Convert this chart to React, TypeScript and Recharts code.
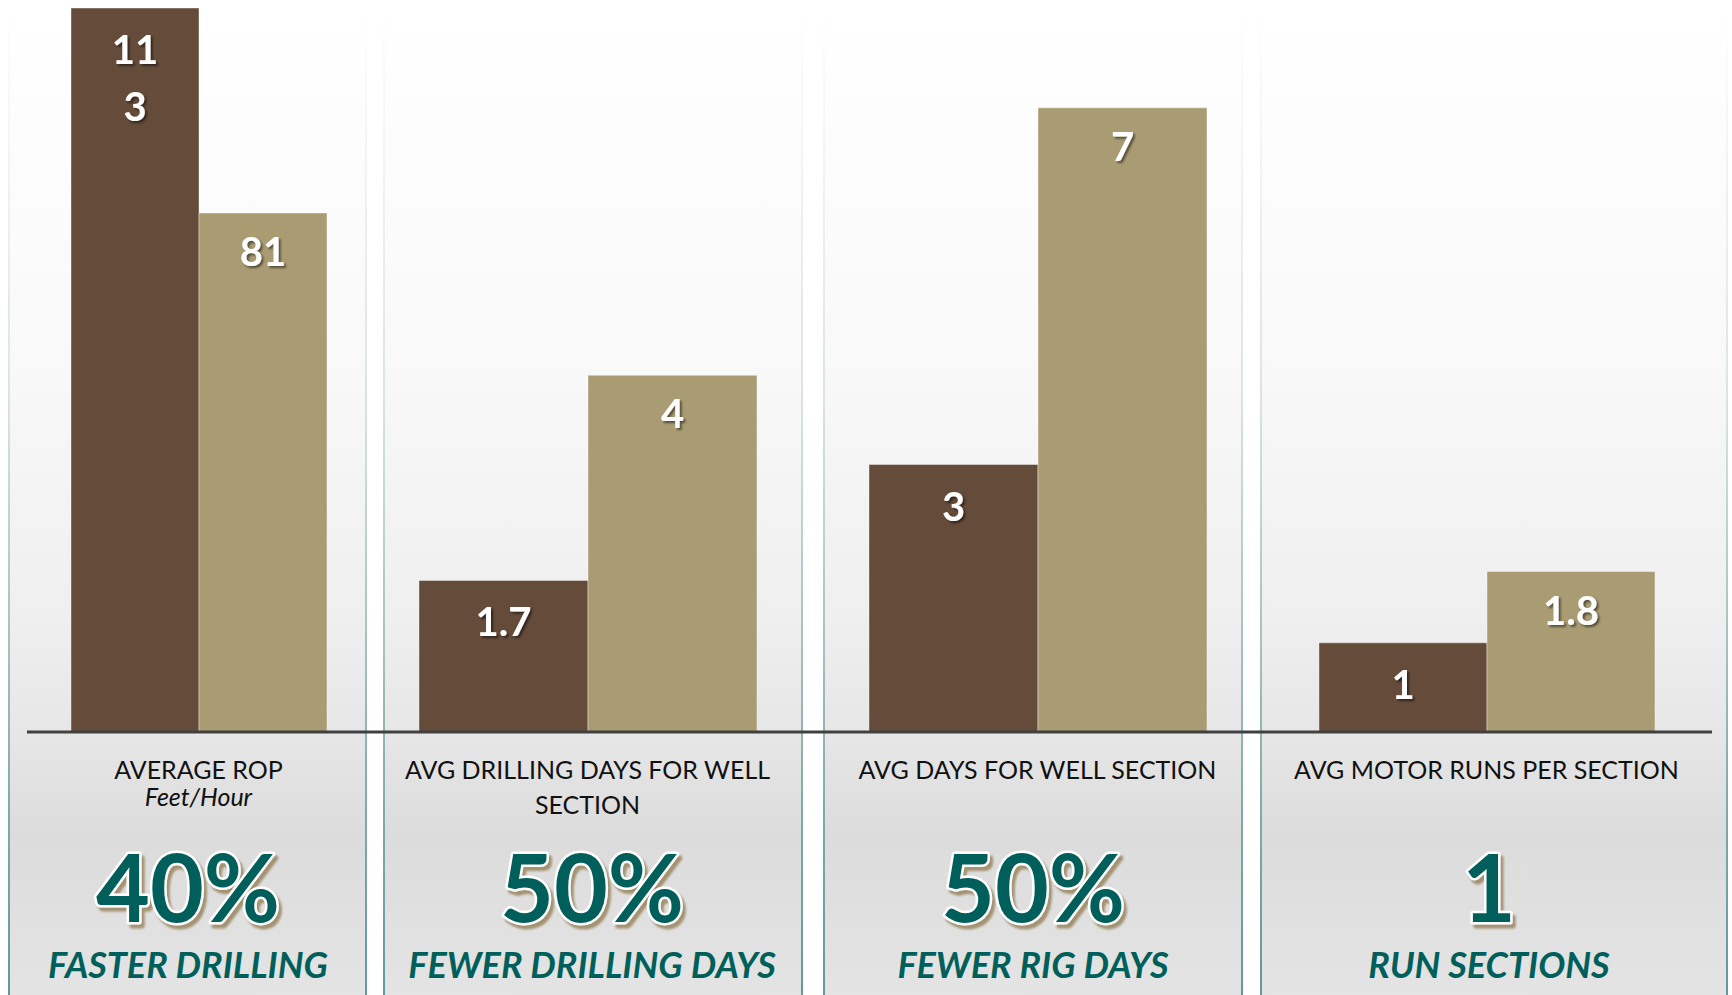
import React from "react";
import { BarChart, Bar, XAxis, YAxis, LabelList } from "recharts";

const categories = [
  "AVERAGE ROP",
  "AVG DRILLING DAYS FOR WELL SECTION",
  "AVG DAYS FOR WELL SECTION",
  "AVG MOTOR RUNS PER SECTION",
];
const units = ["Feet/Hour", "", "", ""];
const newTool = [113, 1.7, 3, 1];
const previous = [81, 4, 7, 1.8];
const headlines = ["40%", "50%", "50%", "1"];
const headlineNotes = ["FASTER DRILLING", "FEWER DRILLING DAYS", "FEWER RIG DAYS", "RUN SECTIONS"];
const yMax = [113, 8.12, 8.12, 8.12];

const FONT = "Lato, 'Noto Sans', sans-serif";
const DARK = "#654b39";
const LIGHT = "#a99b72";
const TEAL = "#005f5a";
const BASE_Y = 732;
const CAT_SIZE = 25;

// layout of the four panels: backgrounds, chart span, axis padding, bar width, headline centre
const panels = [
  { bg: [8, 367], chart: [27, 383], pad: [43, 56], bar: 128, split: 2, mid: 188 },
  { bg: [383, 803], chart: [383, 823], pad: [35, 66], bar: 169, split: 0, mid: 592 },
  { bg: [823, 1243], chart: [823, 1260], pad: [45, 53], bar: 169, split: 0, mid: 1033 },
  { bg: [1260, 1728], chart: [1260, 1712], pad: [58, 57], bar: 168, split: 0, mid: 1489 },
];

let measureCtx: CanvasRenderingContext2D | null = null;
function wrapWords(text: string, maxWidth: number): string[] {
  if (!measureCtx) measureCtx = document.createElement("canvas").getContext("2d");
  const ctx = measureCtx!;
  ctx.font = `${CAT_SIZE}px ${FONT}`;
  const words = text.split(" ");
  const lines: string[] = [];
  let cur = "";
  words.forEach((w) => {
    const next = cur ? cur + " " + w : w;
    if (cur && ctx.measureText(next).width > maxWidth) {
      lines.push(cur);
      cur = w;
    } else {
      cur = next;
    }
  });
  if (cur) lines.push(cur);
  return lines;
}

function BarValue(props: any) {
  const { x, y, width, value, split, dy } = props;
  const s = String(value);
  const lines = split && s.length > split ? [s.slice(0, split), s.slice(split)] : [s];
  const cx = x + width / 2;
  return (
    <g filter="url(#labelShadow)">
      {lines.map((t, i) => (
        <text key={i} x={cx} y={y + dy + i * 57} textAnchor="middle" fontFamily={FONT} fontWeight={700} fontSize={40} fill="#ffffff">
          {t}
        </text>
      ))}
    </g>
  );
}

function CategoryTick(props: any) {
  const { x, y, payload, maxWidth, unit } = props;
  const lines = wrapWords(String(payload.value), maxWidth);
  return (
    <g>
      {lines.map((l, i) => (
        <text key={i} x={x} y={y + 47 + i * 35} textAnchor="middle" fontFamily={FONT} fontSize={CAT_SIZE} fill="#111111">
          {l}
        </text>
      ))}
      {unit ? (
        <text x={x} y={y + 74} textAnchor="middle" fontFamily={FONT} fontStyle="italic" fontSize={CAT_SIZE} fill="#111111">
          {unit}
        </text>
      ) : null}
    </g>
  );
}

function Panel({ i }: { i: number }) {
  const p = panels[i];
  const data = [{ name: categories[i], a: newTool[i], b: previous[i] }];
  const w = p.chart[1] - p.chart[0];
  return (
    <div style={{ position: "absolute", left: p.chart[0], top: 0 }}>
      <BarChart width={w} height={995} data={data} margin={{ top: 8, right: 0, bottom: 0, left: 0 }} barGap={1} barCategoryGap={0}>
        <defs>
          <filter id="labelShadow" x="-30%" y="-30%" width="160%" height="160%">
            <feDropShadow dx="2" dy="2" stdDeviation="1" floodColor="#000000" floodOpacity="0.5" />
          </filter>
        </defs>
        <YAxis hide domain={[0, yMax[i]]} />
        <XAxis
          dataKey="name"
          height={995 - BASE_Y}
          padding={{ left: p.pad[0], right: p.pad[1] }}
          axisLine={{ stroke: "#404040", strokeWidth: 3 }}
          tickLine={false}
          tickSize={0}
          tickMargin={0}
          interval={0}
          tick={(tp: any) => <CategoryTick {...tp} maxWidth={p.bg[1] - p.bg[0] - 30} unit={units[i]} />}
        />
        <Bar dataKey="a" fill={DARK} stroke="rgba(255,255,255,0.4)" strokeWidth={1} barSize={p.bar} isAnimationActive={false}>
          <LabelList dataKey="a" content={(lp: any) => <BarValue {...lp} split={p.split} dy={56} />} />
        </Bar>
        <Bar dataKey="b" fill={LIGHT} stroke="rgba(255,255,255,0.4)" strokeWidth={1} barSize={p.bar} isAnimationActive={false}>
          <LabelList dataKey="b" content={(lp: any) => <BarValue {...lp} split={p.split} dy={53} />} />
        </Bar>
      </BarChart>
    </div>
  );
}

const edgeGradient = "linear-gradient(to bottom, rgba(90,150,148,0) 0%, rgba(90,150,148,0.2) 40%, rgba(90,150,148,0.95) 100%)";

export default function App() {
  return (
    <div style={{ position: "absolute", left: 0, top: 0, width: 1732, height: 995, background: "#ffffff", overflow: "hidden" }}>
      {panels.map((p, i) => (
        <div
          key={"bg" + i}
          style={{
            position: "absolute",
            left: p.bg[0],
            top: 8,
            width: p.bg[1] - p.bg[0],
            height: 995 - 8,
            background: "linear-gradient(to bottom, #ffffff 0%, #f9f9f9 35%, #efefef 62%, #e6e6e6 74%, #dcdcdc 84%, #e4e4e4 100%)",
          }}
        >
          <div style={{ position: "absolute", left: 0, top: 0, width: 2, height: "100%", background: edgeGradient }} />
          <div style={{ position: "absolute", right: 0, top: 0, width: 2, height: "100%", background: edgeGradient }} />
        </div>
      ))}
      {panels.map((_, i) => (
        <Panel key={"chart" + i} i={i} />
      ))}
      <svg width={1732} height={995} style={{ position: "absolute", left: 0, top: 0, pointerEvents: "none" }}>
        <defs>
          <filter id="tanShadow" x="-20%" y="-20%" width="140%" height="140%">
            <feDropShadow dx="3" dy="4" stdDeviation="1.2" floodColor="#a08f6c" floodOpacity="0.95" />
          </filter>
        </defs>
        {panels.map((p, i) => (
          <g key={"hl" + i}>
            <text x={p.mid} y={922} textAnchor="middle" fontFamily={FONT} fontWeight={700} fontSize={93} fill={TEAL} stroke="#ffffff" strokeWidth={5} paintOrder="stroke" strokeLinejoin="round" filter="url(#tanShadow)">
              {headlines[i]}
            </text>
            <text x={p.mid} y={978} textAnchor="middle" fontFamily={FONT} fontWeight={700} fontStyle="italic" fontSize={36} fill={TEAL}>
              {headlineNotes[i]}
            </text>
          </g>
        ))}
      </svg>
    </div>
  );
}
